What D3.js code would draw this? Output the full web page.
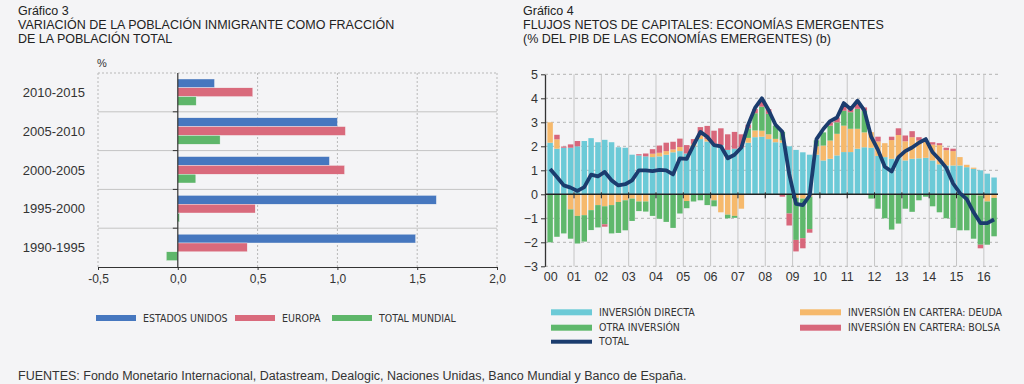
<!DOCTYPE html>
<html lang="es">
<head>
<meta charset="utf-8">
<script src="https://cdn.jsdelivr.net/npm/d3@7"></script>
<style>
    html, body { margin: 0; padding: 0; background: #f4f4f6; }
    svg { display: block; font-family: "Liberation Sans", Arial, Helvetica, sans-serif; }
    .narrow { font-family: "Liberation Sans Narrow", "Arial Narrow", "DejaVu Sans Condensed", sans-serif; }
</style>
</head>
<body>
<svg id="chart" width="1024" height="384"></svg>
<script>
// Gráfico 3: variación de la población inmigrante (%)
const periods = ['2010-2015', '2005-2010', '2000-2005', '1995-2000', '1990-1995'];
const estadosUnidos = [0.23, 1.00, 0.95, 1.62, 1.49];
const europa = [0.47, 1.05, 1.045, 0.485, 0.435];
const totalMundial = [0.115, 0.265, 0.113, 0.01, -0.072];
const ticks3 = [-0.5, 0, 0.5, 1, 1.5, 2];

// Gráfico 4: flujos netos de capitales, trimestral 2000 T1 - 2016 T2
const years = ['00', '01', '02', '03', '04', '05', '06', '07', '08', '09', '10', '11', '12', '13', '14', '15', '16'];
const directa = [
    2.15, 1.90, 1.94, 1.94,
    2.00, 2.22, 2.34, 2.17,
    2.27, 2.17, 1.96, 1.94,
    1.65, 1.62, 1.58, 1.55,
    1.58, 1.65, 1.75, 1.80,
    1.70, 2.00, 2.30, 2.20,
    2.10, 2.05, 1.85, 1.90,
    1.95, 2.15, 2.38, 2.40,
    2.30, 2.17, 2.15, 2.00,
    1.85, 1.75, 1.65, 1.65,
    1.41, 1.48, 1.62, 1.76,
    1.76, 1.90, 1.96, 1.94,
    1.60, 1.55, 1.48, 1.55,
    1.41, 1.48, 1.50, 1.52,
    1.41, 1.25, 1.20, 1.20,
    1.20, 1.13, 1.06, 1.00,
    0.86, 0.70
];
const deuda = [
    0.85, 0.39, 0.00, -0.63,
    -0.90, -0.87, -0.66, -0.45,
    -0.50, -0.45, -0.32, -0.25,
    -0.18, -0.30, -0.30, 0.14,
    0.15, 0.15, 0.12, 0.17,
    -0.28, 0.10, 0.15, 0.10,
    -0.25, -0.75, -0.85, -0.90,
    -0.60, 0.20, 0.28, 0.25,
    0.20, 0.14, 0.10, 0.00,
    -0.15, -0.18, -0.10, 0.35,
    0.62, 0.76, 0.90, 1.10,
    0.97, 0.83, 0.62, 0.65,
    0.60, 0.58, 0.78, 0.92,
    0.80, 0.90, 0.74, 0.72,
    0.66, 0.80, 0.64, 0.60,
    0.35, 0.10, 0.05, -0.05,
    -0.30, -0.15
];
const otra = [
    -2.00, -1.77, -1.63, -1.22,
    -1.15, -1.10, -0.83, -0.93,
    -0.75, -1.18, -1.29, -1.25,
    -0.93, -0.40, -0.42, -0.90,
    -1.02, -1.15, -1.40, -0.80,
    -0.30, -0.30, -0.25, -0.45,
    -0.25, 0.00, -0.15, -0.08,
    0.00, 0.40, 0.72, 1.00,
    0.85, 0.55, 0.35, -0.80,
    -1.75, -1.65, -1.35, 0.25,
    0.55, 0.62, 0.48, 0.62,
    0.69, 0.83, 0.90, -0.18,
    -0.60, -1.00, -1.47, -1.22,
    -0.60, -0.73, -0.25, -0.10,
    -0.50, -0.75, -1.00, -1.40,
    -1.50, -1.50, -1.85, -2.05,
    -1.80, -1.60
];
const bolsa = [
    0.00, 0.19, 0.05, 0.14,
    0.22, 0.00, 0.00, 0.00,
    -0.10, 0.00, 0.00, 0.00,
    0.00, 0.05, 0.12, 0.19,
    0.30, 0.35, 0.32, 0.35,
    0.35, 0.20, 0.35, 0.55,
    0.55, 0.70, 0.65, 0.70,
    0.55, 0.15, 0.18, 0.25,
    0.20, 0.00, -0.10, -0.50,
    -0.48, -0.42, -0.15, 0.00,
    0.00, 0.14, 0.20, 0.28,
    0.20, 0.20, 0.14, 0.00,
    0.20, 0.00, 0.14, 0.28,
    0.24, 0.25, 0.14, 0.00,
    0.10, 0.08, 0.10, 0.10,
    0.00, 0.00, 0.00, -0.15,
    0.00, 0.00
];
const total = [
    1.05, 0.72, 0.37, 0.28,
    0.14, 0.30, 0.82, 0.75,
    0.93, 0.58, 0.37, 0.42,
    0.58, 1.00, 1.00, 0.97,
    1.02, 1.00, 0.83, 1.50,
    1.48, 2.05, 2.60, 2.40,
    2.05, 2.00, 1.50, 1.65,
    1.95, 2.90, 3.60, 4.00,
    3.50, 2.90, 2.60, 0.85,
    -0.40, -0.45, -0.05, 2.30,
    2.72, 3.05, 3.20, 3.80,
    3.55, 3.90, 3.50, 2.40,
    1.85, 1.15, 0.95, 1.55,
    1.80, 1.95, 2.15, 2.30,
    1.75, 1.45, 1.10, 0.45,
    0.05, -0.20, -0.75, -1.20,
    -1.20, -1.05
];
const ticks4 = [-3, -2, -1, 0, 1, 2, 3, 4, 5];

const svg = d3.select('#chart');
const es = d3.formatLocale({ decimal: ',', thousands: '.', grouping: [3], currency: ['', ' €'], minus: '-' });
const fmt1 = es.format('.1f');

// Titles
function drawTitle(x, lines) {
    const t = svg.append('text')
        .attr('x', x)
        .attr('y', 15)
        .attr('fill', '#222')
        .style('font-size', '12.5px');
    lines.forEach((s, i) => {
        t.append('tspan')
            .attr('x', x)
            .attr('dy', i === 0 ? 0 : 13.8)
            .text(s);
    });
}

drawTitle(18, ['Gráfico 3', 'VARIACIÓN DE LA POBLACIÓN INMIGRANTE COMO FRACCIÓN', 'DE LA POBLACIÓN TOTAL']);
drawTitle(523, ['Gráfico 4', 'FLUJOS NETOS DE CAPITALES: ECONOMÍAS EMERGENTES', '(% DEL PIB DE LAS ECONOMÍAS EMERGENTES) (b)']);

// Gráfico 3
function drawMigrationChart() {
    const colors = { usa: '#4677bf', eu: '#d96a7c', world: '#5eb66a' };
    const rows = periods.map((p, i) => ({ period: p, usa: estadosUnidos[i], eu: europa[i], world: totalMundial[i] }));
    const keys = ['usa', 'eu', 'world'];

    const x = d3.scaleLinear().domain([-0.5, 2]).range([98, 497]);
    const y = d3.scaleBand().domain(periods).range([73, 267]);
    const yInner = d3.scaleBand().domain(keys).range([6, 32.4]);

    const g = svg.append('g');

    // vertical dashed grid
    g.selectAll('.vgrid')
        .data(ticks3.filter(d => d !== 0))
        .enter().append('line')
        .attr('x1', d => x(d)).attr('x2', d => x(d))
        .attr('y1', y.range()[0]).attr('y2', y.range()[1])
        .attr('stroke', '#b8b8b8')
        .attr('stroke-dasharray', '2,2');

    // top dashed border
    g.append('line')
        .attr('x1', x(-0.5)).attr('x2', x(2))
        .attr('y1', y.range()[0]).attr('y2', y.range()[0])
        .attr('stroke', '#b8b8b8')
        .attr('stroke-dasharray', '2,2');

    // category separators
    g.selectAll('.sep')
        .data(periods.slice(1))
        .enter().append('line')
        .attr('x1', x(-0.5)).attr('x2', x(2))
        .attr('y1', d => y(d)).attr('y2', d => y(d))
        .attr('stroke', '#c4c4c4');

    // bars
    g.selectAll('.group')
        .data(rows)
        .enter().append('g')
        .attr('transform', d => `translate(0,${y(d.period)})`)
        .selectAll('rect')
        .data(d => keys.map(k => ({ key: k, value: d[k] })))
        .enter().append('rect')
        .attr('x', d => x(Math.min(0, d.value)))
        .attr('y', d => yInner(d.key))
        .attr('width', d => Math.abs(x(d.value) - x(0)))
        .attr('height', yInner.bandwidth())
        .attr('fill', d => colors[d.key])
        .attr('stroke', '#f4f4f6')
        .attr('stroke-width', 0.4);

    // zero axis with ticks at separators
    g.append('line')
        .attr('x1', x(0)).attr('x2', x(0))
        .attr('y1', y.range()[0]).attr('y2', y.range()[1])
        .attr('stroke', '#333').attr('stroke-width', 1.2);
    g.selectAll('.ztick')
        .data(periods.slice(1))
        .enter().append('line')
        .attr('x1', x(0) - 5).attr('x2', x(0))
        .attr('y1', d => y(d)).attr('y2', d => y(d))
        .attr('stroke', '#333');

    // bottom axis
    const axis = g.append('g')
        .attr('transform', `translate(0,${y.range()[1]})`)
        .call(d3.axisBottom(x).tickValues(ticks3).tickFormat(fmt1).tickSize(3).tickSizeOuter(0));
    axis.select('.domain').attr('stroke', '#333').attr('stroke-width', 1.2);
    axis.selectAll('.tick line').attr('stroke', '#333');
    axis.selectAll('text').attr('fill', '#333').style('font-size', '12px').attr('y', 7);

    // category labels
    g.selectAll('.cat')
        .data(periods)
        .enter().append('text')
        .attr('x', 85)
        .attr('y', d => y(d) + y.bandwidth() / 2)
        .attr('dy', '0.36em')
        .attr('text-anchor', 'end')
        .attr('fill', '#333')
        .style('font-size', '13px')
        .text(d => d);

    g.append('text')
        .attr('x', 97).attr('y', 67)
        .attr('fill', '#333')
        .style('font-size', '11px')
        .text('%');

    // legend
    const legend = [
        { key: 'usa', label: 'ESTADOS UNIDOS', x: 96 },
        { key: 'eu', label: 'EUROPA', x: 235 },
        { key: 'world', label: 'TOTAL MUNDIAL', x: 332 }
    ];
    const lg = g.selectAll('.lg').data(legend).enter().append('g');
    lg.append('rect')
        .attr('x', d => d.x).attr('y', 315)
        .attr('width', 40).attr('height', 6)
        .attr('fill', d => colors[d.key]);
    lg.append('text')
        .attr('class', 'narrow')
        .attr('x', d => d.x + 47).attr('y', 318)
        .attr('dy', '0.36em')
        .attr('fill', '#333')
        .style('font-size', '10.5px')
        .text(d => d.label);
}

// Gráfico 4
function drawCapitalFlowsChart() {
    const keys = ['directa', 'deuda', 'otra', 'bolsa'];
    const colors = { directa: '#6ccad7', deuda: '#f6b96c', otra: '#5fb86c', bolsa: '#d8677b', total: '#1b3c6e' };

    const quarters = [];
    years.forEach(yr => ['T1', 'T2', 'T3', 'T4'].forEach(q => quarters.push(yr + q)));
    quarters.length = directa.length;

    const rows = quarters.map((q, i) => ({
        q: q, directa: directa[i], deuda: deuda[i], otra: otra[i], bolsa: bolsa[i], total: total[i]
    }));

    const x = d3.scaleBand().domain(quarters).range([546.7, 997.5]).paddingInner(0.2).paddingOuter(0.1);
    const y = d3.scaleLinear().domain([-3, 5]).range([266.3, 74.3]);
    const gap = (x.step() - x.bandwidth()) / 2;
    const yearX = yr => x(yr + 'T1') - gap;
    const right = 998;

    const g = svg.append('g');

    // horizontal dashed grid
    g.selectAll('.hgrid')
        .data(ticks4.filter(d => d !== 0))
        .enter().append('line')
        .attr('x1', 545).attr('x2', right)
        .attr('y1', d => y(d)).attr('y2', d => y(d))
        .attr('stroke', '#b3b3b3')
        .attr('stroke-dasharray', '3,3');

    // vertical year lines
    g.selectAll('.vgrid')
        .data(years.slice(1))
        .enter().append('line')
        .attr('x1', d => yearX(d)).attr('x2', d => yearX(d))
        .attr('y1', y(5)).attr('y2', y(-3))
        .attr('stroke', '#c6c6c6');

    // stacked bars
    const series = d3.stack().keys(keys).offset(d3.stackOffsetDiverging)(rows);
    g.selectAll('.layer')
        .data(series)
        .enter().append('g')
        .attr('fill', d => colors[d.key])
        .selectAll('rect')
        .data(d => d)
        .enter().append('rect')
        .attr('x', d => x(d.data.q))
        .attr('y', d => y(Math.max(d[0], d[1])))
        .attr('width', x.bandwidth())
        .attr('height', d => Math.abs(y(d[0]) - y(d[1])));

    // zero line and year ticks on it
    g.append('line')
        .attr('x1', 545).attr('x2', right)
        .attr('y1', y(0)).attr('y2', y(0))
        .attr('stroke', '#222').attr('stroke-width', 1.5);
    g.selectAll('.ztick')
        .data(years.slice(1))
        .enter().append('line')
        .attr('x1', d => yearX(d)).attr('x2', d => yearX(d))
        .attr('y1', y(0) - 2).attr('y2', y(0) + 4)
        .attr('stroke', '#222');

    // total line
    const line = d3.line()
        .x(d => x(d.q) + x.bandwidth() / 2)
        .y(d => y(d.total));
    g.append('path')
        .datum(rows)
        .attr('fill', 'none')
        .attr('stroke', colors.total)
        .attr('stroke-width', 3.8)
        .attr('stroke-linejoin', 'round')
        .attr('d', line);

    // left axis
    const axis = g.append('g')
        .attr('transform', 'translate(545,0)')
        .call(d3.axisLeft(y).tickValues(ticks4).tickFormat(d3.format('d')).tickSize(4).tickSizeOuter(0));
    axis.select('.domain').attr('stroke', '#333').attr('stroke-width', 1.3);
    axis.selectAll('.tick line').attr('stroke', '#333');
    axis.selectAll('text').attr('fill', '#333').style('font-size', '12.5px');

    // year labels
    g.selectAll('.year')
        .data(years)
        .enter().append('text')
        .attr('x', d => yearX(d) + (d === '00' ? 4 : 0))
        .attr('y', 281)
        .attr('text-anchor', 'middle')
        .attr('fill', '#333')
        .style('font-size', '12.5px')
        .text(d => d);

    // legend
    const legend = [
        { key: 'directa', label: 'INVERSIÓN DIRECTA', x: 551, y: 312.3, h: 6 },
        { key: 'otra', label: 'OTRA INVERSIÓN', x: 551, y: 327.7, h: 6 },
        { key: 'total', label: 'TOTAL', x: 551, y: 341.7, h: 4 },
        { key: 'deuda', label: 'INVERSIÓN EN CARTERA: DEUDA', x: 800, y: 312.3, h: 6 },
        { key: 'bolsa', label: 'INVERSIÓN EN CARTERA: BOLSA', x: 800, y: 327.7, h: 6 }
    ];
    const lg = g.selectAll('.lg').data(legend).enter().append('g');
    lg.append('rect')
        .attr('x', d => d.x).attr('y', d => d.y - d.h / 2)
        .attr('width', 41).attr('height', d => d.h)
        .attr('fill', d => colors[d.key]);
    lg.append('text')
        .attr('class', 'narrow')
        .attr('x', d => d.x + 48).attr('y', d => d.y)
        .attr('dy', '0.36em')
        .attr('fill', '#333')
        .style('font-size', '10.5px')
        .text(d => d.label);
}

drawMigrationChart();
drawCapitalFlowsChart();

// sources line at the bottom edge
svg.append('text')
    .attr('x', 18).attr('y', 380)
    .attr('fill', '#333')
    .style('font-size', '12.5px')
    .text('FUENTES: Fondo Monetario Internacional, Datastream, Dealogic, Naciones Unidas, Banco Mundial y Banco de España.');
</script>
</body>
</html>
